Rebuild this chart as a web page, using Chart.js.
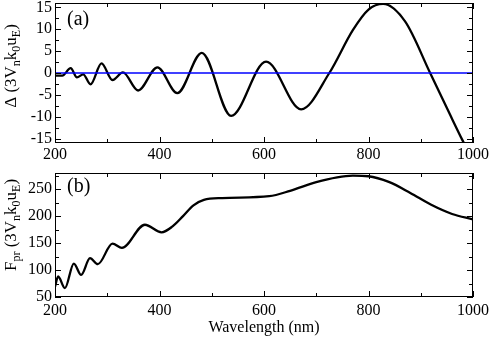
<!DOCTYPE html>
<html>
<head>
<meta charset="utf-8">
<script src="https://cdn.jsdelivr.net/npm/chart.js@4/dist/chart.umd.min.js"></script>
<style>
  html, body { margin: 0; padding: 0; background: #fff; }
  #wrap { position: relative; width: 491px; height: 337px; }
  .pane { position: absolute; left: 0; width: 491px; }
</style>
</head>
<body>
<div id="wrap">
  <div class="pane" style="top:0;height:165px"><canvas id="chartA"></canvas></div>
  <div class="pane" style="top:165px;height:172px"><canvas id="chartB"></canvas></div>
</div>
<script>
// panel (a): Delta vs wavelength
const LAMBDA_A = [200, 214, 230, 242, 254, 268, 289, 310, 330, 359, 396, 434, 481, 537, 604, 671, 725, 770, 800, 828, 870, 918, 956, 980, 1000];
const DELTA_A  = [-0.6, -0.6, 1.1, -1.0, -0.3, -2.6, 2.2, -1.6, 0.15, -4.0, 1.3, -4.6, 4.6, -9.8, 2.6, -8.3, 0, 9.8, 14.5, 15.8, 11.8, 0, -9.5, -15.4, -20];
const ZERO_X = [200, 1000];
const ZERO_Y = [0, 0];

// panel (b): F_pr vs wavelength
const LAMBDA_B = [200, 206, 219, 236, 250, 267, 282, 310, 328, 372, 404, 425, 445, 465, 485, 520, 610, 650, 700, 740, 770, 800, 840, 880, 920, 960, 1000];
const FPR_B    = [69, 88, 66.5, 112, 91, 122, 111, 149, 141, 184, 170, 181, 200, 220, 230, 233.5, 237, 247, 263, 272, 275, 274, 263, 243, 221, 204, 194];

// ticks
const X_MAJOR = [200, 400, 600, 800, 1000];
const X_MINOR = [300, 500, 700, 900];
const YA_MAJOR = [-15, -10, -5, 0, 5, 10, 15];
const YA_MINOR = [-12.5, -7.5, -2.5, 2.5, 7.5, 12.5];
const YB_MAJOR = [50, 100, 150, 200, 250];
const YB_MINOR = [75, 125, 175, 225, 275];

const FONT = "'Liberation Serif', 'Times New Roman', serif";

function pts(xs, ys) {
  return xs.map((x, i) => ({ x: x, y: ys[i] }));
}

// frame, inward ticks, panel letter and y title with subscripts
const framePlugin = {
  id: 'frame',
  afterDatasetsDraw(chart, args, opts) {
    const ctx = chart.ctx;
    const a = chart.chartArea;
    const xs = chart.scales.x, ys = chart.scales.y;
    ctx.save();
    ctx.strokeStyle = '#000';
    ctx.lineWidth = 1;
    ctx.strokeRect(a.left + 0.5, a.top + 0.5, a.right - a.left - 1, a.bottom - a.top - 1);
    ctx.beginPath();
    const tick = (vals, len) => {
      vals.forEach(v => {
        const px = Math.round(xs.getPixelForValue(v)) + 0.5;
        ctx.moveTo(px, a.bottom); ctx.lineTo(px, a.bottom - len);
        ctx.moveTo(px, a.top); ctx.lineTo(px, a.top + len);
      });
    };
    const tickY = (vals, len) => {
      vals.forEach(v => {
        const py = Math.round(ys.getPixelForValue(v)) + 0.5;
        ctx.moveTo(a.left, py); ctx.lineTo(a.left + len, py);
        ctx.moveTo(a.right, py); ctx.lineTo(a.right - len, py);
      });
    };
    tick(X_MAJOR, 6); tick(X_MINOR, 4);
    tickY(opts.yMajor, 6); tickY(opts.yMinor, 4);
    ctx.stroke();

    // panel letter
    ctx.fillStyle = '#000';
    ctx.font = '20px ' + FONT;
    ctx.textBaseline = 'middle';
    ctx.textAlign = 'left';
    ctx.fillText(opts.letter, a.left + 12, a.top + opts.letterDy);

    // rotated y title, pieces: [text, isSub]
    const big = '17px ' + FONT, small = '12px ' + FONT;
    let w = 0;
    opts.title.forEach(p => { ctx.font = p[1] ? small : big; w += ctx.measureText(p[0]).width; });
    ctx.translate(16, opts.titleY);
    ctx.rotate(-Math.PI / 2);
    ctx.textBaseline = 'alphabetic';
    let cx = -w / 2;
    opts.title.forEach(p => {
      ctx.font = p[1] ? small : big;
      ctx.fillText(p[0], cx, p[1] ? 4 : 0);
      cx += ctx.measureText(p[0]).width;
    });
    ctx.restore();
  }
};

function fixBox(size, isX) {
  return function(scale) {
    if (isX) scale.height = size; else scale.width = size;
    scale.paddingTop = 0; scale.paddingBottom = 0;
    scale.paddingLeft = 0; scale.paddingRight = 0;
  };
}

function makeChart(id, datasets, yMin, yMax, yMajor, xHeight, padTop, xTitle, xPad, plug) {
  return new Chart(document.getElementById(id), {
    type: 'line',
    data: { datasets: datasets },
    options: {
      responsive: true,
      maintainAspectRatio: false,
      animation: false,
      events: [],
      layout: { padding: { top: padTop, right: 18, left: 0, bottom: 0 } },
      plugins: { legend: { display: false }, tooltip: { enabled: false }, frame: plug },
      elements: { point: { radius: 0 } },
      scales: {
        x: {
          type: 'linear', min: 200, max: 1000,
          afterBuildTicks: s => { s.ticks = X_MAJOR.map(v => ({ value: v })); },
          afterFit: fixBox(xHeight, true),
          grid: { display: false, drawTicks: false },
          border: { display: false },
          ticks: { color: '#000', padding: xPad, maxRotation: 0, callback: v => String(v), font: { family: FONT, size: 16 } },
          title: xTitle
        },
        y: {
          type: 'linear', min: yMin, max: yMax,
          afterBuildTicks: s => { s.ticks = yMajor.map(v => ({ value: v })); },
          afterFit: fixBox(55, false),
          grid: { display: false, drawTicks: false },
          border: { display: false },
          ticks: { color: '#000', padding: 3, callback: v => String(v), font: { family: FONT, size: 16 } }
        }
      }
    },
    plugins: [framePlugin]
  });
}

makeChart('chartA', [
  { data: pts(ZERO_X, ZERO_Y), borderColor: '#0000ff', borderWidth: 1.5, tension: 0 },
  { data: pts(LAMBDA_A, DELTA_A), borderColor: '#000', borderWidth: 2.3, cubicInterpolationMode: 'monotone' }
], -16, 16, YA_MAJOR, 22, 3, { display: false }, 2, {
  yMajor: YA_MAJOR, yMinor: YA_MINOR, letter: '(a)', letterDy: 17, titleY: 66,
  title: [['\u0394 (3V', 0], ['n', 1], ['k', 0], ['0', 1], ['u', 0], ['E', 1], [')', 0]]
});

makeChart('chartB', [
  { data: pts(LAMBDA_B, FPR_B), borderColor: '#000', borderWidth: 2.3, cubicInterpolationMode: 'monotone' }
], 50, 280, YB_MAJOR, 40, 8,
  { display: true, text: 'Wavelength (nm)', color: '#000', padding: 0, font: { family: FONT, size: 16 } }, 4, {
  yMajor: YB_MAJOR, yMinor: YB_MINOR, letter: '(b)', letterDy: 14, titleY: 60,
  title: [['F', 0], ['pr', 1], [' (3V', 0], ['n', 1], ['k', 0], ['0', 1], ['u', 0], ['E', 1], [')', 0]]
});
</script>
</body>
</html>
